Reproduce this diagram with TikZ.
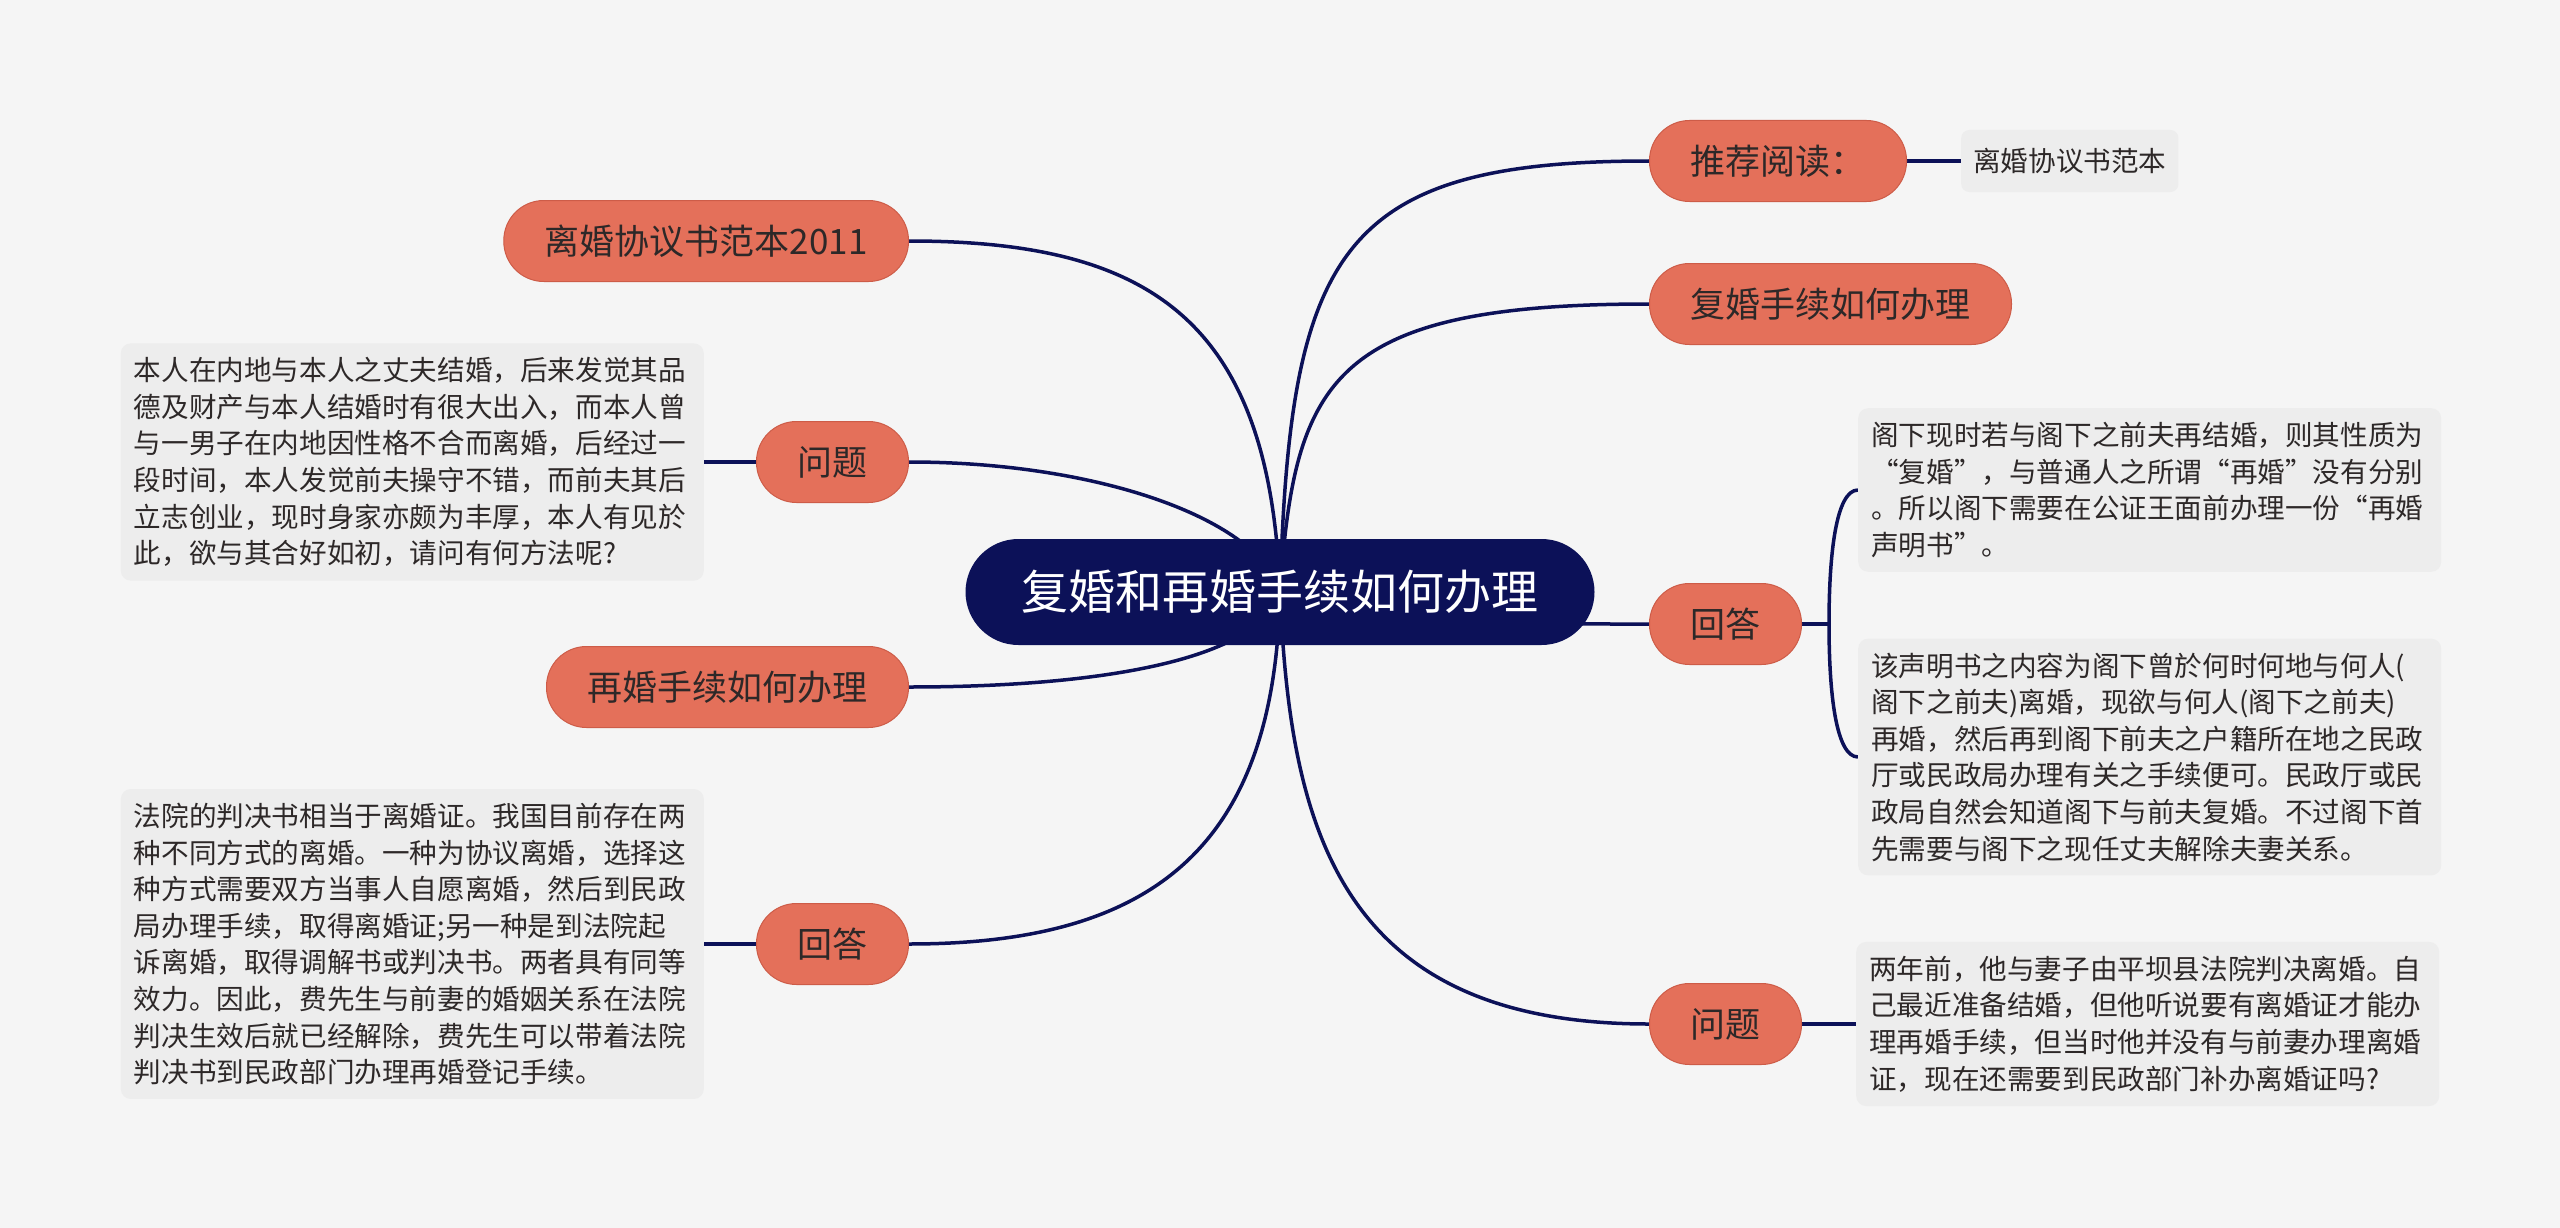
\documentclass[tikz,border=0pt]{standalone}
\usepackage{fontspec}
\setmainfont{Noto Sans CJK SC}
\usetikzlibrary{positioning,calc}
\definecolor{navy}{RGB}{12,17,88}
\definecolor{coral}{RGB}{228,112,90}
\definecolor{coraledge}{RGB}{205,92,72}
\definecolor{paper}{RGB}{245,245,245}
\definecolor{notefill}{RGB}{237,237,237}
\definecolor{ink}{RGB}{45,40,40}
\pgfdeclarelayer{back}
\pgfdeclarelayer{links}
\pgfsetlayers{back,links,main}
\tikzset{
	rootbox/.style={rectangle, rounded corners=53pt, fill=navy, text=white,
		minimum height=106pt, inner xsep=56pt, font=\fontsize{47}{56}\selectfont},
	topicbox/.style={rectangle, rounded corners=40pt, fill=coral, draw=coraledge, line width=1pt,
		text=ink, minimum height=81pt, inner xsep=41pt, font=\fontsize{35}{42}\selectfont},
	notebox/.style={rectangle, rounded corners=10pt, fill=notefill, text=ink, align=left,
		text width=557pt, inner xsep=13pt, inner ysep=14pt, font=\fontsize{27.6}{36.6}\selectfont},
	leafbox/.style={rectangle, rounded corners=8pt, fill=notefill, text=ink,
		minimum height=62pt, inner xsep=12pt, font=\fontsize{27.6}{33}\selectfont},
	branch/.style={draw=navy, line width=3.5pt}
}

\begin{document}
\begin{tikzpicture}[x=1pt, y=-1pt]
	\begin{pgfonlayer}{back}
		\fill[paper] (0,0) rectangle (2560,1228);
	\end{pgfonlayer}
	\node[rootbox] (root) at (1280,592) {复婚和再婚手续如何办理};
	% right side
	\node[topicbox, anchor=west] (tj) at (1649,161) {推荐阅读：};
	\node[leafbox, right=54pt of tj] (tjleaf) {离婚协议书范本};
	\node[topicbox, anchor=west] (fh) at (1649,304) {复婚手续如何办理};
	\node[topicbox, anchor=west] (ansR) at (1649,624) {回答};
	\node[notebox, anchor=west] (noteA) at (1858,490) {阁下现时若与阁下之前夫再结婚，则其性质为\\
		“复婚”，与普通人之所谓“再婚”没有分别\\
		。所以阁下需要在公证王面前办理一份“再婚\\
		声明书”。};
	\node[notebox, anchor=west] (noteB) at (1858,757) {该声明书之内容为阁下曾於何时何地与何人(\\
		阁下之前夫)离婚，现欲与何人(阁下之前夫)\\
		再婚，然后再到阁下前夫之户籍所在地之民政\\
		厅或民政局办理有关之手续便可。民政厅或民\\
		政局自然会知道阁下与前夫复婚。不过阁下首\\
		先需要与阁下之现任丈夫解除夫妻关系。};
	\node[topicbox, anchor=west] (qR) at (1649,1024) {问题};
	\node[notebox, right=54pt of qR] (noteC) {两年前，他与妻子由平坝县法院判决离婚。自\\
		己最近准备结婚，但他听说要有离婚证才能办\\
		理再婚手续，但当时他并没有与前妻办理离婚\\
		证，现在还需要到民政部门补办离婚证吗?};
	% left side
	\node[topicbox, anchor=east] (lxy) at (909,241) {离婚协议书范本2011};
	\node[topicbox, anchor=east] (qL) at (909,462) {问题};
	\node[notebox, left=52pt of qL] (noteL1) {本人在内地与本人之丈夫结婚，后来发觉其品\\
		德及财产与本人结婚时有很大出入，而本人曾\\
		与一男子在内地因性格不合而离婚，后经过一\\
		段时间，本人发觉前夫操守不错，而前夫其后\\
		立志创业，现时身家亦颇为丰厚，本人有见於\\
		此，欲与其合好如初，请问有何方法呢?};
	\node[topicbox, anchor=east] (zh) at (909,687) {再婚手续如何办理};
	\node[topicbox, anchor=east] (ansL) at (909,944) {回答};
	\node[notebox, left=52pt of ansL] (noteL2) {法院的判决书相当于离婚证。我国目前存在两\\
		种不同方式的离婚。一种为协议离婚，选择这\\
		种方式需要双方当事人自愿离婚，然后到民政\\
		局办理手续，取得离婚证;另一种是到法院起\\
		诉离婚，取得调解书或判决书。两者具有同等\\
		效力。因此，费先生与前妻的婚姻关系在法院\\
		判决生效后就已经解除，费先生可以带着法院\\
		判决书到民政部门办理再婚登记手续。};
	\coordinate (fork) at ($(ansR.east)+(27,0)$);
	\begin{pgfonlayer}{links}
		\draw[branch] (root.center) .. controls +(10,-342) and +(-309,0) .. (tj.west);
		\draw[branch] (root.center) .. controls +(15,-212) and +(-319,0) .. (fh.west);
		\draw[branch] (root.center) .. controls +(20,32) and +(-249,0) .. (ansR.west);
		\draw[branch] (root.center) .. controls +(10,238) and +(-309,0) .. (qR.west);
		\draw[branch] (root.center) .. controls +(-10,-272) and +(241,0) .. (lxy.east);
		\draw[branch] (root.center) .. controls +(-20,-72) and +(191,0) .. (qL.east);
		\draw[branch] (root.center) .. controls +(-20,68) and +(191,0) .. (zh.east);
		\draw[branch] (root.center) .. controls +(-5,258) and +(241,0) .. (ansL.east);
		\draw[branch] (tj.east) -- (tjleaf.west);
		\draw[branch] (ansR.east) -- (fork);
		\draw[branch] (noteA.west) .. controls +(-22,0) and +(0,-70) .. (fork)
			.. controls +(0,70) and +(-22,0) .. (noteB.west);
		\draw[branch] (qR.east) -- (noteC.west);
		\draw[branch] (qL.west) -- (noteL1.east);
		\draw[branch] (ansL.west) -- (noteL2.east);
	\end{pgfonlayer}
\end{tikzpicture}
\end{document}
